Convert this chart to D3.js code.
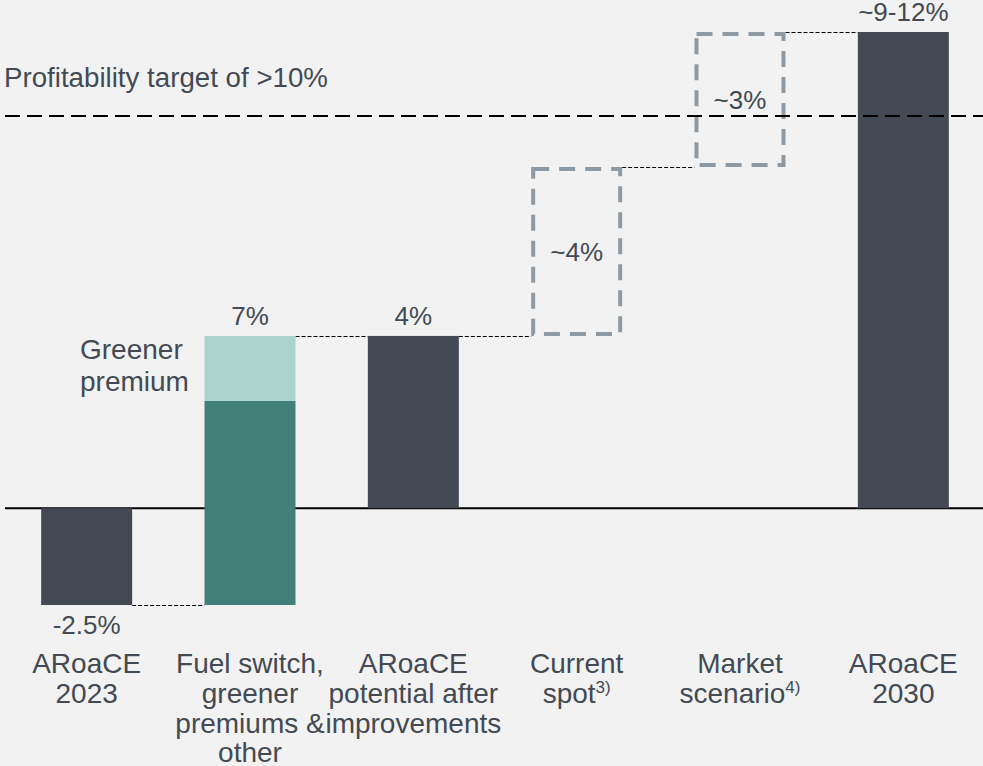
<!DOCTYPE html>
<html>
<head>
<meta charset="utf-8">
<script src="https://cdn.jsdelivr.net/npm/d3@7"></script>
<style>
  body { margin: 0; background: #f2f2f2; }
  svg { display: block; font-family: "Liberation Sans", Arial, sans-serif; }
</style>
</head>
<body>
<svg id="chart"></svg>
<script>
// category labels (lines), last line may carry a footnote mark
var categories = [
    ["ARoaCE", "2023"],
    ["Fuel switch,", "greener", "premiums &", "other"],
    ["ARoaCE", "potential after", "improvements"],
    ["Current", "spot"],
    ["Market", "scenario"],
    ["ARoaCE", "2030"]
];
var footnotes = ["", "", "", "3)", "4)", ""];
var kinds = ["total", "delta", "total", "estimate", "estimate", "total"];
var startVals = [0, -2.5, 0, 4.45, 8.81, 0];
var endVals = [-2.5, 4.45, 4.45, 8.81, 12.3, 12.3];
var valueLabels = ["-2.5%", "7%", "4%", "~4%", "~3%", "~9-12%"];
var greenerSplit = 2.77;   // where the greener premium part starts in bar 2
var targetVal = 10.13;
var targetLabel = "Profitability target of >10%";
var greenerLabel = ["Greener", "premium"];

var width = 983,
    height = 766;

var dark = "#434a53",
    teal = "#427f78",
    lightTeal = "#acd4cf",
    boxGrey = "#8e9aa3";

var svg = d3.select("#chart")
    .attr("width", width)
    .attr("height", height);

svg.append("rect")
    .attr("width", width)
    .attr("height", height)
    .attr("fill", "#f2f2f2");

var x = d3.scaleBand()
    .domain(d3.range(categories.length))
    .range([5, 985])
    .paddingInner(0.443)
    .paddingOuter(0.2215);

var y = d3.scaleLinear()
    .domain([-2.5, 12.3])
    .range([605, 32]);

// zero line
svg.append("line")
    .attr("x1", 5)
    .attr("x2", width)
    .attr("y1", y(0))
    .attr("y2", y(0))
    .attr("stroke", "#000")
    .attr("stroke-width", 2);

// connectors
var conn = svg.append("g");
for (let i = 0; i < categories.length - 1; i++) {
    var cy = Math.round(y(endVals[i])) + 0.5;
    conn.append("line")
        .attr("x1", x(i) + x.bandwidth())
        .attr("x2", x(i + 1))
        .attr("y1", cy)
        .attr("y2", cy)
        .attr("stroke", "#000")
        .attr("stroke-width", 1)
        .attr("stroke-dasharray", "4,2");
}

// solid bars
var bars = svg.append("g");
categories.forEach(function (c, i) {
    var lo = Math.min(startVals[i], endVals[i]),
        hi = Math.max(startVals[i], endVals[i]);
    if (kinds[i] == "total") {
        bars.append("rect")
            .attr("x", x(i))
            .attr("width", x.bandwidth())
            .attr("y", y(hi))
            .attr("height", y(lo) - y(hi))
            .attr("fill", dark);
    } else if (kinds[i] == "delta") {
        bars.append("rect")
            .attr("x", x(i))
            .attr("width", x.bandwidth())
            .attr("y", y(greenerSplit))
            .attr("height", y(lo) - y(greenerSplit))
            .attr("fill", teal);
        bars.append("rect")
            .attr("x", x(i))
            .attr("width", x.bandwidth())
            .attr("y", y(hi))
            .attr("height", y(greenerSplit) - y(hi))
            .attr("fill", lightTeal);
    } else {
        bars.append("rect")
            .attr("x", x(i) + 2)
            .attr("width", x.bandwidth() - 4)
            .attr("y", y(hi) + 2)
            .attr("height", y(lo) - y(hi) - 4)
            .attr("fill", "none")
            .attr("stroke", boxGrey)
            .attr("stroke-width", 4)
            .attr("stroke-dasharray", "16,10");
    }
});

// target line
svg.append("line")
    .attr("x1", 5)
    .attr("x2", width)
    .attr("y1", y(targetVal))
    .attr("y2", y(targetVal))
    .attr("stroke", "#000")
    .attr("stroke-width", 2)
    .attr("stroke-dasharray", "15,7");

svg.append("text")
    .attr("x", 4)
    .attr("y", 87)
    .attr("fill", dark)
    .style("font-size", "27.7px")
    .text(targetLabel);

// value labels
categories.forEach(function (c, i) {
    var cx = x(i) + x.bandwidth() / 2;
    var ty;
    if (kinds[i] == "estimate") {
        ty = (y(startVals[i]) + y(endVals[i])) / 2 + 9.5;
    } else if (endVals[i] < 0) {
        ty = y(endVals[i]) + 29;
    } else {
        ty = y(endVals[i]) - 11;
    }
    svg.append("text")
        .attr("x", cx)
        .attr("y", ty)
        .attr("text-anchor", "middle")
        .attr("fill", dark)
        .style("font-size", "26px")
        .text(valueLabels[i]);
});

// greener premium note
var gp = svg.append("text")
    .attr("x", 80)
    .attr("y", 359)
    .attr("fill", dark)
    .style("font-size", "28px");
greenerLabel.forEach(function (t, k) {
    gp.append("tspan")
        .attr("x", 80)
        .attr("dy", k == 0 ? 0 : 32)
        .text(t);
});

// category labels
categories.forEach(function (lines, i) {
    var t = svg.append("text")
        .attr("x", x(i) + x.bandwidth() / 2)
        .attr("y", 673)
        .attr("text-anchor", "middle")
        .attr("fill", dark)
        .style("font-size", "28px");
    lines.forEach(function (line, k) {
        var ts = t.append("tspan")
            .attr("x", x(i) + x.bandwidth() / 2)
            .attr("dy", k == 0 ? 0 : 29.8)
            .text(line);
        if (k == lines.length - 1 && footnotes[i]) {
            ts.text(null);
            ts.append("tspan").text(line);
            ts.append("tspan")
                .attr("dy", -10)
                .style("font-size", "17px")
                .text(footnotes[i]);
        }
    });
});
</script>
</body>
</html>
